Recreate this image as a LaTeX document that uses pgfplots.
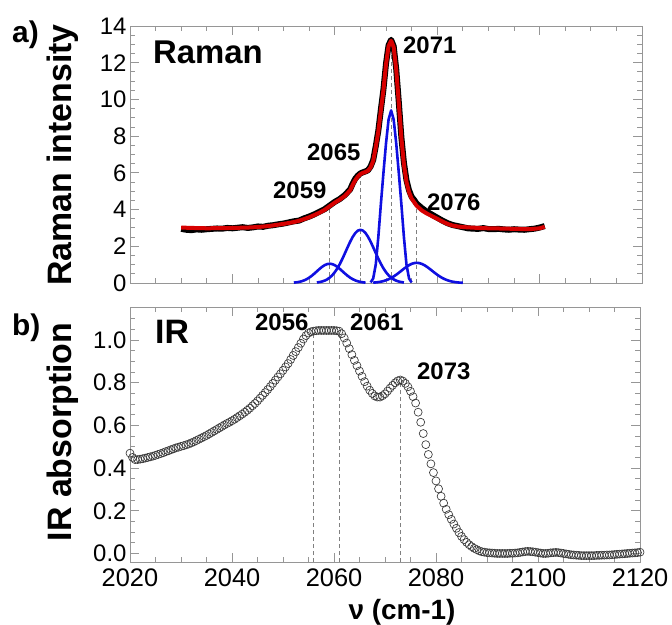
\documentclass[border=0pt]{standalone}
\usepackage{fontspec}
\setmainfont{Liberation Sans}
\usepackage{pgfplots}
\pgfplotsset{compat=1.18}

\definecolor{fitred}{RGB}{215,0,0}
\definecolor{compblue}{RGB}{15,15,225}
\definecolor{framegray}{RGB}{150,150,150}

\pgfplotsset{
  panel/.style={
    scale only axis, clip=false,
    xmin=2020, xmax=2120,
    axis line style={framegray, line width=0.9bp},
    tick style={framegray, line width=0.9bp},
    tick align=inside,
    major tick length=9bp, minor tick length=5bp,
    xtick distance=20, minor x tick num=3,
    /pgf/number format/assume math mode=true,
    /pgf/number format/1000 sep={},
    yticklabel style={font=\fontsize{24}{26}\selectfont, black},
    xticklabel style={font=\fontsize{25.5}{27}\selectfont, black, yshift=-3bp},
  },
  peakline/.style={black!50, line width=0.8bp, dash pattern=on 4bp off 3bp},
}

\begin{document}
\begin{tikzpicture}
\useasboundingbox (0,0) rectangle (672bp,-625bp);

% a) Raman
\begin{axis}[panel, at={(130bp,-26bp)}, anchor=north west,
  width=512bp, height=257bp,
  ymin=0, ymax=14, ytick distance=2, minor y tick num=3,
  xticklabels={}]
\addplot[peakline] coordinates {(2059,0) (2059,4.2)};
\addplot[peakline] coordinates {(2065,0) (2065,5.9)};
\addplot[peakline] coordinates {(2071,0) (2071,13.0)};
\addplot[peakline] coordinates {(2076,0) (2076,4.2)};
% measured spectrum
\addplot[black, line width=6bp, line join=round] coordinates {
(2030,2.95) (2031,2.90) (2032,2.88) (2033,2.92) (2034,2.90) (2035,2.93)
(2036,2.95) (2037,2.97) (2038,2.96) (2039,3.00) (2040,2.98) (2041,3.01)
(2042,3.04) (2043,3.00) (2044,3.03) (2045,3.08) (2046,3.06) (2047,3.12)
(2048,3.15) (2049,3.20) (2050,3.24) (2051,3.30) (2052,3.36) (2053,3.40)
(2054,3.52) (2055,3.62) (2056,3.74) (2057,3.88) (2058,4.02) (2059,4.22)
(2060,4.42) (2061,4.58) (2062,4.80) (2063,5.10) (2063.5,5.42) (2064,5.68)
(2064.5,5.85) (2065,5.97) (2065.5,6.03) (2066,6.08) (2066.5,6.15) (2067,6.35)
(2067.5,6.70) (2068,7.45) (2068.5,8.30) (2069,9.45) (2069.5,10.55) (2070,11.95)
(2070.5,12.95) (2071,13.25) (2071.5,12.90) (2072,11.65) (2072.5,9.85) (2073,7.95)
(2073.5,6.55) (2074,5.60) (2074.5,5.05) (2075,4.70) (2075.5,4.52) (2076,4.32)
(2077,4.08) (2078,3.88) (2079,3.72) (2080,3.56) (2081,3.40) (2082,3.26)
(2083,3.16) (2084,3.10) (2085,3.04) (2086,2.98) (2087,2.96) (2088,2.95)
(2089,2.99) (2090,2.94) (2091,2.93) (2092,2.95) (2093,2.92) (2094,2.90)
(2095,2.93) (2096,2.91) (2097,2.90) (2098,2.93) (2099,2.96) (2100,3.02) (2101,3.10)
};
% fit
\addplot[fitred, line width=4bp, line join=round] coordinates {
(2030,3.02) (2032,3.00) (2035,2.98) (2038,2.99) (2040,3.00) (2043,3.02)
(2045,3.05) (2047,3.10) (2049,3.18) (2050,3.22) (2051,3.27) (2052,3.32)
(2053,3.39) (2054,3.48) (2055,3.58) (2056,3.70) (2057,3.83) (2058,3.98)
(2059,4.18) (2060,4.38) (2061,4.55) (2062,4.75) (2063,5.05) (2063.5,5.35)
(2064,5.60) (2064.5,5.80) (2065,5.93) (2065.5,6.00) (2066,6.05) (2066.5,6.12)
(2067,6.30) (2067.5,6.65) (2068,7.40) (2068.5,8.25) (2069,9.40) (2069.5,10.50)
(2070,11.90) (2070.5,12.90) (2071,13.20) (2071.5,12.85) (2072,11.60) (2072.5,9.80)
(2073,7.90) (2073.5,6.45) (2074,5.50) (2074.5,4.95) (2075,4.60) (2075.5,4.40)
(2076,4.20) (2077,3.95) (2078,3.78) (2079,3.64) (2080,3.50) (2081,3.35)
(2082,3.22) (2083,3.13) (2084,3.08) (2085,3.05) (2086,3.03) (2088,3.00)
(2090,2.98) (2092,2.97) (2095,2.95) (2098,2.93) (2100,2.98) (2101,3.06)
};
% components
\addplot[compblue, line width=2.6bp, line join=round] coordinates {
(2052,0.021) (2052.5,0.036) (2053,0.059) (2053.5,0.093) (2054,0.142) (2054.5,0.208)
(2055,0.292) (2055.5,0.394) (2056,0.511) (2056.5,0.637) (2057,0.762) (2057.5,0.877)
(2058,0.969) (2058.5,1.029) (2059,1.050) (2059.5,1.029) (2060,0.969) (2060.5,0.877)
(2061,0.762) (2061.5,0.637) (2062,0.511) (2062.5,0.394) (2063,0.292) (2063.5,0.208)
(2064,0.142) (2064.5,0.093) (2065,0.059) (2065.5,0.036) (2066,0.021)
};
\addplot[compblue, line width=2.6bp, line join=round] coordinates {
(2056.5,0.029) (2057,0.049) (2057.5,0.080) (2058,0.127) (2058.5,0.196) (2059,0.292)
(2059.5,0.421) (2060,0.589) (2060.5,0.797) (2061,1.045) (2061.5,1.328) (2062,1.634)
(2062.5,1.947) (2063,2.247) (2063.5,2.512) (2064,2.721) (2064.5,2.854) (2065,2.900)
(2065.5,2.854) (2066,2.721) (2066.5,2.512) (2067,2.247) (2067.5,1.947) (2068,1.634)
(2068.5,1.328) (2069,1.045) (2069.5,0.797) (2070,0.589) (2070.5,0.421) (2071,0.292)
(2071.5,0.196) (2072,0.127) (2072.5,0.080) (2073,0.049) (2073.5,0.029)
};
\addplot[compblue, line width=2.6bp, line join=round] coordinates {
(2067,0.03) (2067.5,0.25) (2068,1.0) (2068.5,2.5) (2069,4.3) (2069.5,6.0)
(2070,7.6) (2070.5,8.9) (2071,9.4) (2071.5,8.9) (2072,7.6) (2072.5,6.0)
(2073,4.3) (2073.5,2.5) (2074,1.0) (2074.5,0.25) (2075,0.03)
};
\addplot[compblue, line width=2.6bp, line join=round] coordinates {
(2067.5,0.020) (2068,0.031) (2068.5,0.048) (2069,0.072) (2069.5,0.105) (2070,0.149)
(2070.5,0.205) (2071,0.274) (2071.5,0.357) (2072,0.452) (2072.5,0.557) (2073,0.667)
(2073.5,0.777) (2074,0.881) (2074.5,0.971) (2075,1.041) (2075.5,1.085) (2076,1.100)
(2076.5,1.085) (2077,1.041) (2077.5,0.971) (2078,0.881) (2078.5,0.777) (2079,0.667)
(2079.5,0.557) (2080,0.452) (2080.5,0.357) (2081,0.274) (2081.5,0.205) (2082,0.149)
(2082.5,0.105) (2083,0.072) (2083.5,0.048) (2084,0.031) (2084.5,0.020) (2085,0.012)
};
\end{axis}

% b) IR
\begin{axis}[panel, at={(130bp,-307bp)}, anchor=north west,
  width=510bp, height=255bp,
  ymin=-0.04, ymax=1.155,
  ytick={0,0.2,0.4,0.6,0.8,1.0},
  minor ytick={0.05,0.1,0.15,0.25,0.3,0.35,0.45,0.5,0.55,0.65,0.7,0.75,0.85,0.9,0.95,1.05,1.1},
  yticklabel style={/pgf/number format/fixed, /pgf/number format/precision=1,
    /pgf/number format/fixed zerofill}]
\addplot[peakline] coordinates {(2056,-0.04) (2056,1.03)};
\addplot[peakline] coordinates {(2061,-0.04) (2061,1.03)};
\addplot[peakline] coordinates {(2073,-0.04) (2073,0.81)};
\addplot[only marks, mark=o, mark size=4bp,
  mark options={draw=black!78, line width=0.65bp}] coordinates {
(2020,0.470) (2020.5,0.450) (2021,0.440) (2021.5,0.440) (2022,0.442) (2022.5,0.444)
(2023,0.447) (2023.5,0.450) (2024,0.453) (2024.5,0.456) (2025,0.460) (2025.5,0.464)
(2026,0.468) (2026.5,0.472) (2027,0.477) (2027.5,0.481) (2028,0.486) (2028.5,0.490)
(2029,0.495) (2029.5,0.498) (2030,0.502) (2030.5,0.505) (2031,0.509) (2031.5,0.513)
(2032,0.518) (2032.5,0.523) (2033,0.529) (2033.5,0.535) (2034,0.541) (2034.5,0.547)
(2035,0.553) (2035.5,0.560) (2036,0.567) (2036.5,0.574) (2037,0.581) (2037.5,0.588)
(2038,0.595) (2038.5,0.602) (2039,0.609) (2039.5,0.615) (2040,0.622) (2040.5,0.629)
(2041,0.637) (2041.5,0.645) (2042,0.653) (2042.5,0.662) (2043,0.671) (2043.5,0.681)
(2044,0.692) (2044.5,0.703) (2045,0.715) (2045.5,0.728) (2046,0.741) (2046.5,0.754)
(2047,0.768) (2047.5,0.782) (2048,0.797) (2048.5,0.812) (2049,0.827) (2049.5,0.842)
(2050,0.858) (2050.5,0.874) (2051,0.890) (2051.5,0.909) (2052,0.928) (2052.5,0.946)
(2053,0.965) (2053.5,0.985) (2054,1.005) (2054.5,1.021) (2055,1.033) (2055.5,1.039)
(2056,1.042) (2056.5,1.044) (2057,1.045) (2057.5,1.045) (2058,1.045) (2058.5,1.045)
(2059,1.045) (2059.5,1.045) (2060,1.045) (2060.5,1.044) (2061,1.042) (2061.5,1.030)
(2062,1.010) (2062.5,0.986) (2063,0.960) (2063.5,0.932) (2064,0.905) (2064.5,0.880)
(2065,0.855) (2065.5,0.830) (2066,0.805) (2066.5,0.784) (2067,0.765) (2067.5,0.750)
(2068,0.738) (2068.5,0.733) (2069,0.733) (2069.5,0.739) (2070,0.748) (2070.5,0.761)
(2071,0.775) (2071.5,0.788) (2072,0.800) (2072.5,0.809) (2073,0.813) (2073.5,0.808)
(2074,0.797) (2074.5,0.781) (2075,0.760) (2075.5,0.735) (2076,0.705) (2076.5,0.662)
(2077,0.615) (2077.5,0.562) (2078,0.510) (2078.5,0.464) (2079,0.420) (2079.5,0.379)
(2080,0.340) (2080.5,0.303) (2081,0.268) (2081.5,0.236) (2082,0.207) (2082.5,0.182)
(2083,0.160) (2083.5,0.138) (2084,0.118) (2084.5,0.098) (2085,0.080) (2085.5,0.065)
(2086,0.052) (2086.5,0.041) (2087,0.032) (2087.5,0.024) (2088,0.018) (2088.5,0.012)
(2089,0.008) (2089.5,0.006) (2090,0.004) (2090.5,0.003) (2091,0.002) (2091.5,0.001)
(2092,0.000) (2092.5,0.000) (2093,0.000) (2093.5,0.000) (2094,0.000) (2094.5,0.001)
(2095,0.001) (2095.5,0.002) (2096,0.003) (2096.5,0.005) (2097,0.007) (2097.5,0.009)
(2098,0.010) (2098.5,0.009) (2099,0.008) (2099.5,0.006) (2100,0.004) (2100.5,0.002)
(2101,0.000) (2101.5,0.000) (2102,0.001) (2102.5,0.003) (2103,0.004) (2103.5,0.005)
(2104,0.004) (2104.5,0.002) (2105,0.000) (2105.5,-0.002) (2106,-0.004) (2106.5,-0.006)
(2107,-0.007) (2107.5,-0.008) (2108,-0.009) (2108.5,-0.010) (2109,-0.010) (2109.5,-0.010)
(2110,-0.010) (2110.5,-0.010) (2111,-0.010) (2111.5,-0.009) (2112,-0.009) (2112.5,-0.008)
(2113,-0.008) (2113.5,-0.007) (2114,-0.007) (2114.5,-0.006) (2115,-0.005) (2115.5,-0.004)
(2116,-0.003) (2116.5,-0.002) (2117,-0.001) (2117.5,0.000) (2118,0.001) (2118.5,0.002)
(2119,0.003) (2119.5,0.004) (2120,0.006)
};
\end{axis}

% labels
\begin{scope}[every node/.style={inner sep=0pt}]
\node[anchor=base west, font=\bfseries\fontsize{30}{32}\selectfont] at (12bp,-42bp) {a)};
\node[anchor=base west, font=\bfseries\fontsize{30}{32}\selectfont] at (12bp,-335bp) {b)};
\node[anchor=base west, font=\bfseries\fontsize{33}{35}\selectfont] at (153bp,-63bp) {Raman};
\node[anchor=base west, font=\bfseries\fontsize{34}{36}\selectfont] at (155bp,-343bp) {IR};
\node[rotate=90, anchor=base, font=\bfseries\fontsize{34}{36}\selectfont] at (71bp,-155bp) {Raman intensity};
\node[rotate=90, anchor=base, font=\bfseries\fontsize{34}{36}\selectfont] at (71bp,-432bp) {IR absorption};
\node[anchor=base, font=\bfseries\fontsize{28}{30}\selectfont] at (402bp,-619bp) {ν (cm-1)};
\begin{scope}[every node/.append style={anchor=base west, font=\bfseries\fontsize{24}{26}\selectfont}]
\node at (403bp,-53bp) {2071};
\node at (307bp,-160bp) {2065};
\node at (273bp,-198bp) {2059};
\node at (427bp,-210bp) {2076};
\node at (255bp,-330bp) {2056};
\node at (350bp,-330bp) {2061};
\node at (417bp,-379bp) {2073};
\end{scope}
\end{scope}
\end{tikzpicture}
\end{document}
